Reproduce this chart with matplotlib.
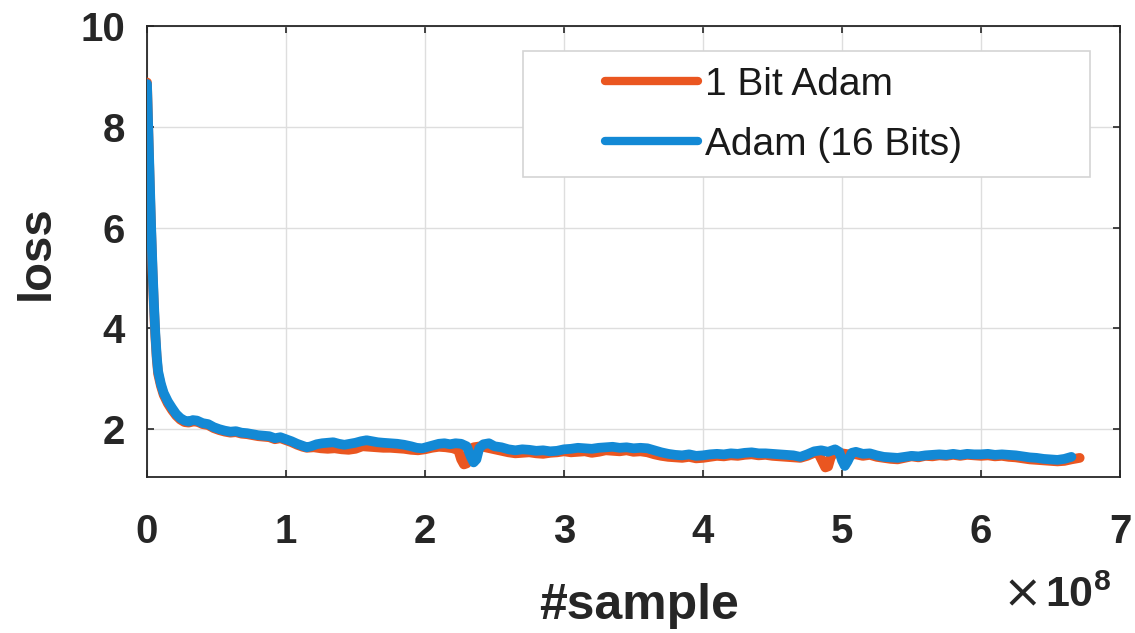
import matplotlib
matplotlib.use("Agg")
import matplotlib.pyplot as plt
from matplotlib.patches import Rectangle

plt.rcParams['font.family'] = ['Liberation Sans', 'DejaVu Sans']
plt.rcParams['mathtext.fontset'] = 'custom'
plt.rcParams['mathtext.rm'] = 'Liberation Sans'
plt.rcParams['mathtext.bf'] = 'Liberation Sans:bold'

# x values in units of 1e8 samples
adam_x = [0.00, 0.01, 0.02, 0.03, 0.04, 0.05, 0.06, 0.07, 0.08, 0.10, 0.12, 0.15, 0.18, 0.21, 0.24,
          0.27, 0.30, 0.33, 0.36, 0.40, 0.44, 0.48, 0.52, 0.56, 0.60, 0.64, 0.68, 0.72, 0.76, 0.80,
          0.84, 0.88, 0.92, 0.96, 1.00, 1.04, 1.08, 1.12, 1.15, 1.18, 1.22, 1.26, 1.30, 1.34, 1.38,
          1.42, 1.46, 1.50, 1.54, 1.58, 1.62, 1.66, 1.70, 1.75, 1.80, 1.85, 1.90, 1.94, 1.98, 2.02,
          2.06, 2.10, 2.14, 2.18, 2.22, 2.26, 2.30, 2.33, 2.35, 2.37, 2.39, 2.42, 2.46, 2.50, 2.55,
          2.60, 2.65, 2.70, 2.75, 2.80, 2.85, 2.90, 2.95, 3.00, 3.05, 3.10, 3.15, 3.20, 3.25, 3.30,
          3.35, 3.40, 3.45, 3.50, 3.55, 3.60, 3.65, 3.70, 3.75, 3.80, 3.85, 3.90, 3.95, 4.00, 4.05,
          4.10, 4.15, 4.20, 4.25, 4.30, 4.35, 4.40, 4.45, 4.50, 4.55, 4.60, 4.65, 4.70, 4.75, 4.80,
          4.85, 4.90, 4.95, 4.98, 5.00, 5.02, 5.04, 5.07, 5.10, 5.15, 5.20, 5.25, 5.30, 5.35, 5.40,
          5.45, 5.50, 5.55, 5.60, 5.65, 5.70, 5.75, 5.80, 5.85, 5.90, 5.95, 6.00, 6.05, 6.10, 6.15,
          6.20, 6.25, 6.30, 6.35, 6.40, 6.45, 6.50, 6.55, 6.60, 6.65]
adam_loss = [8.85, 7.90, 6.90, 6.00, 5.20, 4.50, 3.90, 3.45, 3.15, 2.90, 2.72, 2.55, 2.42, 2.30, 2.22,
             2.17, 2.15, 2.18, 2.17, 2.12, 2.10, 2.04, 2.00, 1.97, 1.95, 1.96, 1.93, 1.92, 1.90, 1.88,
             1.87, 1.86, 1.82, 1.84, 1.80, 1.76, 1.71, 1.67, 1.64, 1.66, 1.70, 1.72, 1.73, 1.74, 1.71,
             1.69, 1.71, 1.73, 1.76, 1.78, 1.76, 1.74, 1.73, 1.72, 1.71, 1.69, 1.66, 1.63, 1.62, 1.65,
             1.68, 1.71, 1.72, 1.70, 1.72, 1.71, 1.66, 1.45, 1.34, 1.40, 1.62, 1.70, 1.72, 1.66, 1.64,
             1.60, 1.58, 1.60, 1.59, 1.57, 1.58, 1.56, 1.57, 1.60, 1.61, 1.63, 1.62, 1.61, 1.63, 1.64,
             1.65, 1.63, 1.64, 1.62, 1.63, 1.62, 1.58, 1.54, 1.51, 1.49, 1.48, 1.50, 1.47, 1.48, 1.50,
             1.51, 1.50, 1.52, 1.51, 1.53, 1.54, 1.52, 1.52, 1.51, 1.50, 1.49, 1.48, 1.45, 1.50, 1.56,
             1.58, 1.55, 1.60, 1.55, 1.38, 1.27, 1.36, 1.53, 1.55, 1.51, 1.52, 1.48, 1.45, 1.44, 1.43,
             1.45, 1.47, 1.46, 1.48, 1.49, 1.50, 1.49, 1.51, 1.49, 1.51, 1.50, 1.50, 1.51, 1.49, 1.50,
             1.49, 1.48, 1.46, 1.44, 1.43, 1.41, 1.40, 1.39, 1.41, 1.45]

onebit_x = [0.00, 0.01, 0.02, 0.03, 0.04, 0.05, 0.06, 0.07, 0.08, 0.10, 0.12, 0.15, 0.18, 0.21, 0.24,
            0.27, 0.30, 0.33, 0.36, 0.40, 0.44, 0.48, 0.52, 0.56, 0.60, 0.64, 0.68, 0.72, 0.76, 0.80,
            0.84, 0.88, 0.92, 0.96, 1.00, 1.04, 1.08, 1.12, 1.15, 1.20, 1.25, 1.30, 1.35, 1.40, 1.45,
            1.50, 1.55, 1.60, 1.65, 1.70, 1.75, 1.80, 1.85, 1.90, 1.95, 2.00, 2.05, 2.10, 2.15, 2.20,
            2.24, 2.26, 2.28, 2.30, 2.32, 2.35, 2.40, 2.45, 2.50, 2.55, 2.60, 2.65, 2.70, 2.75, 2.80,
            2.85, 2.90, 2.95, 3.00, 3.05, 3.10, 3.15, 3.20, 3.25, 3.30, 3.35, 3.40, 3.45, 3.50, 3.55,
            3.60, 3.65, 3.70, 3.75, 3.80, 3.85, 3.90, 3.95, 4.00, 4.05, 4.10, 4.15, 4.20, 4.25, 4.30,
            4.35, 4.40, 4.45, 4.50, 4.55, 4.60, 4.65, 4.70, 4.75, 4.80, 4.83, 4.86, 4.88, 4.90, 4.92,
            4.95, 5.00, 5.05, 5.10, 5.15, 5.20, 5.25, 5.30, 5.35, 5.40, 5.45, 5.50, 5.55, 5.60, 5.65,
            5.70, 5.75, 5.80, 5.85, 5.90, 5.95, 6.00, 6.05, 6.10, 6.15, 6.20, 6.25, 6.30, 6.35, 6.40,
            6.45, 6.50, 6.55, 6.60, 6.65, 6.71]
onebit_loss = [8.88, 7.85, 6.82, 5.92, 5.12, 4.42, 3.84, 3.40, 3.10, 2.86, 2.68, 2.51, 2.38, 2.27, 2.19,
               2.14, 2.13, 2.15, 2.15, 2.10, 2.08, 2.02, 1.98, 1.95, 1.93, 1.94, 1.91, 1.90, 1.88, 1.86,
               1.85, 1.84, 1.80, 1.82, 1.78, 1.74, 1.69, 1.65, 1.63, 1.64, 1.62, 1.61, 1.62, 1.60, 1.59,
               1.61, 1.66, 1.65, 1.64, 1.63, 1.63, 1.62, 1.61, 1.59, 1.58, 1.60, 1.63, 1.65, 1.64, 1.62,
               1.58, 1.40, 1.30, 1.32, 1.55, 1.64, 1.66, 1.63, 1.60, 1.57, 1.54, 1.52, 1.53, 1.54, 1.52,
               1.51, 1.53, 1.54, 1.56, 1.54, 1.55, 1.56, 1.53, 1.55, 1.58, 1.57, 1.56, 1.58, 1.55, 1.56,
               1.54, 1.50, 1.47, 1.45, 1.44, 1.43, 1.45, 1.42, 1.43, 1.45, 1.47, 1.46, 1.48, 1.47, 1.49,
               1.50, 1.48, 1.49, 1.47, 1.46, 1.45, 1.44, 1.43, 1.47, 1.53, 1.52, 1.35, 1.24, 1.26, 1.45,
               1.55, 1.52, 1.50, 1.50, 1.47, 1.49, 1.45, 1.43, 1.41, 1.40, 1.43, 1.46, 1.44, 1.47, 1.46,
               1.48, 1.47, 1.49, 1.47, 1.49, 1.48, 1.47, 1.48, 1.46, 1.47, 1.45, 1.44, 1.42, 1.40, 1.39,
               1.38, 1.37, 1.36, 1.37, 1.40, 1.43]

x_ticks = [0, 1, 2, 3, 4, 5, 6, 7]
y_ticks = [2, 4, 6, 8, 10]
labels = ['1 Bit Adam', 'Adam (16 Bits)']

ORANGE = '#EA5620'
BLUE = '#1389D5'
DARK = '#262626'

fig = plt.figure(figsize=(11.35, 6.33), dpi=100)
ax = fig.add_axes([0.1295, 0.2464, 0.8573, 0.7125])

scale = 1e8
l1, = ax.plot([v * scale for v in onebit_x], onebit_loss, color=ORANGE, lw=7,
              solid_joinstyle='round', solid_capstyle='round', label=labels[0], zorder=3)
l2, = ax.plot([v * scale for v in adam_x], adam_loss, color=BLUE, lw=7,
              solid_joinstyle='round', solid_capstyle='round', label=labels[1], zorder=4)

ax.set_xlim(0, 7 * scale)
ax.set_ylim(1.05, 10)
ax.set_xticks([t * scale for t in x_ticks])
ax.set_xticklabels([str(t) for t in x_ticks])
ax.set_yticks(y_ticks)
ax.set_yticklabels([str(t) for t in y_ticks])

ax.grid(True, color='#DEDEDE', lw=1.0)
ax.set_axisbelow(True)
for sp in ax.spines.values():
    sp.set_color(DARK)
    sp.set_linewidth(1.3)

ax.tick_params(axis='both', which='both', direction='in', length=5, width=1.2,
               color=DARK, top=True, right=True, labelcolor=DARK)
ax.tick_params(axis='x', pad=26)
ax.tick_params(axis='y', pad=16)
for lab in ax.get_xticklabels() + ax.get_yticklabels():
    lab.set_fontsize(29)
    lab.set_fontweight('bold')

fig.text(0.0326, 0.6005, 'loss', rotation=90, fontsize=34, fontweight='bold',
         color=DARK, ha='center', va='center')
fig.text(0.5630, 0.042, '#sample', fontsize=36, fontweight='bold',
         color=DARK, ha='center', va='center')
fig.text(0.9185, 0.041, '\u00d7', fontsize=34, color=DARK, ha='right', va='baseline',
         family=['DejaVu Sans'])
fig.text(0.9205, 0.041, r'$\mathbf{10}^{\mathbf{8}}$', fontsize=31,
         color=DARK, ha='left', va='baseline')

# legend frame (MATLAB-style box)
ax.add_patch(Rectangle((0.386, 0.665), 0.583, 0.280, transform=ax.transAxes,
                       facecolor='white', edgecolor='#D4D4D4', lw=1.2, zorder=5))
leg = ax.legend(handles=[l1, l2], loc='upper left', bbox_to_anchor=(0.4707, 0.910),
                frameon=False, fontsize=28, borderpad=0, borderaxespad=0,
                handlelength=2.39, handletextpad=0.18, labelspacing=0.63)
leg.set_zorder(6)
for line in leg.get_lines():
    line.set_linewidth(6)
for t in leg.get_texts():
    t.set_color('#1A1A1A')

fig.savefig('out.png', dpi=100)
